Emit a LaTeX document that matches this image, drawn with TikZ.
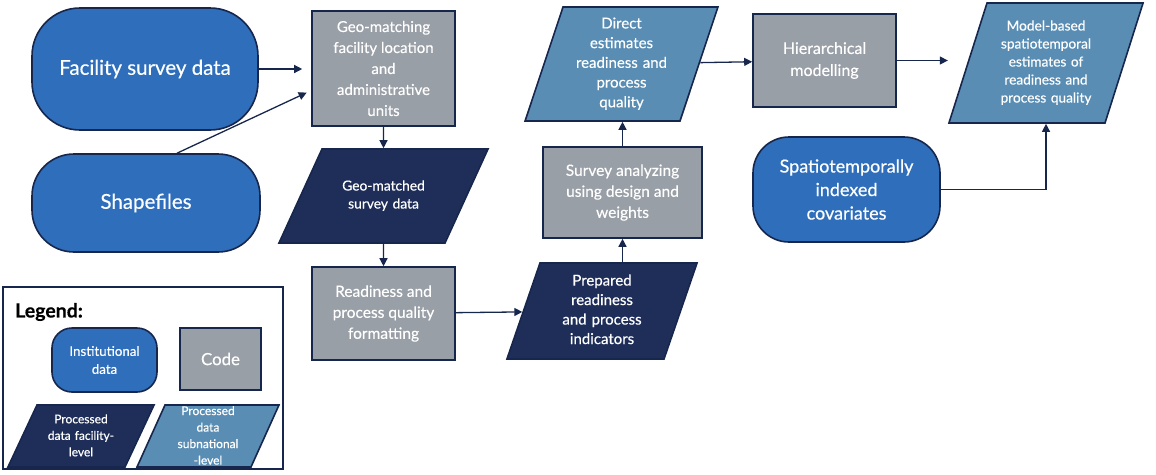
\documentclass[tikz,border=0pt]{standalone}
\usepackage{fontspec}
\setmainfont{Lato}[FakeBold=0.4]
\usetikzlibrary{arrows.meta, positioning, shapes.geometric}

\definecolor{instblue}{HTML}{2F6EBA}
\definecolor{navy}{HTML}{1F2E59}
\definecolor{codegrey}{HTML}{999FA7}
\definecolor{subblue}{HTML}{598DB4}
\definecolor{edgeblue}{HTML}{17264C}

% text of a parallelogram, kept out of the shape size
\newcommand{\ptxt}[1]{\smash{\raisebox{-3.5pt}{\begin{tabular}{@{}c@{}}#1\end{tabular}}}}

\tikzset{
  base/.style={draw=edgeblue, line width=1.6pt, text=white, align=center, inner sep=0pt},
  inst/.style={base, rectangle, fill=instblue},
  code/.style={base, rectangle, fill=codegrey},
  facpara/.style={base, trapezium, fill=navy,
    trapezium left angle=#1, trapezium right angle={180-#1}},
  subpara/.style={base, trapezium, fill=subblue,
    trapezium left angle=#1, trapezium right angle={180-#1}},
  arr/.style={-{Triangle[length=8pt,width=8pt]}, line width=1.3pt, draw=edgeblue}
}

\begin{document}
\begin{tikzpicture}[x=1pt,y=-1pt]
    \useasboundingbox (0,0) rectangle (1156,474);

    % institutional data
    \node[inst, rounded corners=48pt, minimum width=226pt, minimum height=122pt,
          font=\fontsize{20.5}{24}\selectfont] (fsd) at (145,69) {Facility survey data};
    \node[inst, rounded corners=42pt, minimum width=228pt, minimum height=98pt,
          font=\fontsize{20.5}{24}\selectfont] (shp) at (146,203) {Shapefiles};
    \node[inst, rounded corners=36pt, minimum width=187pt, minimum height=105pt,
          font=\fontsize{18}{23.5}\selectfont] (spt) at (846.5,189.5)
      {Spatiotemporally\\indexed\\covariates};

    % code
    \node[code, minimum width=143pt, minimum height=115pt,
          font=\fontsize{15}{21}\selectfont] (geo) at (383.5,68.5)
      {Geo-matching\\facility location\\and\\administrative\\units};
    \node[code, minimum width=143pt, minimum height=93pt,
          font=\fontsize{15.5}{21}\selectfont] (rdy) at (383.5,313.5)
      {Readiness and\\process quality\\formatting};
    \node[code, minimum width=159pt, minimum height=91pt,
          font=\fontsize{15.5}{21}\selectfont] (sav) at (622.5,192.5)
      {Survey analyzing\\using design and\\weights};
    \node[code, minimum width=143pt, minimum height=93pt,
          font=\fontsize{16}{22}\selectfont] (hier) at (824.5,60.5)
      {Hierarchical\\modelling};

    % processed data
    \node[facpara=65.4, text width=123pt, text height=47pt, text depth=47pt,
          font=\fontsize{13.8}{18}\selectfont] (gmd) at (383.5,196)
      {\ptxt{Geo-matched\\survey data}};
    \node[facpara=71, text width=124pt, text height=48pt, text depth=48pt,
          font=\fontsize{15}{19.5}\selectfont] (prep) at (602,311)
      {\ptxt{Prepared\\readiness\\and process\\indicators}};
    \node[subpara=71.6, text width=117pt, text height=57pt, text depth=57pt,
          font=\fontsize{15}{19.7}\selectfont] (dir) at (621.5,64)
      {\ptxt{Direct\\estimates\\readiness and\\process\\quality}};
    \node[subpara=72.4, text width=118pt, text height=60pt, text depth=60pt,
          font=\fontsize{13.7}{18}\selectfont] (mod) at (1046,63)
      {\ptxt{Model-based\\spatiotemporal\\estimates of\\readiness and\\process quality}};

    % connectors
    \draw[arr, shorten >=9pt] (fsd.east) -- (fsd.east -| geo.west);
    \draw[arr, shorten >=5pt] ([xshift=31pt]shp.north) -- ([yshift=-22pt]geo.west);
    \draw[arr] (geo) -- (gmd);
    \draw[arr] (gmd) -- (rdy);
    \draw[arr] (rdy) -- (prep);
    \draw[arr] (sav.south |- prep.north) -- (sav.south);
    \draw[arr] (sav.north) -- (sav.north |- dir.south);
    \draw[arr] (dir) -- (hier);
    \draw[arr] (hier.east) -- (hier.east -| mod.bottom left corner);
    \draw[arr] (spt.east) -| (mod.south);

    % legend
    \node[draw=edgeblue, line width=1.6pt, minimum width=280pt, minimum height=182pt,
          inner sep=0pt] (legend) at (143,378) {};
    \node[anchor=west, inner sep=0pt, font=\bfseries\fontsize{19.5}{22}\selectfont]
      (legtitle) at (15,312) {Legend:};
    \node[inst, rounded corners=20pt, minimum width=105pt, minimum height=64pt,
          font=\fontsize{13.3}{18}\selectfont] (lins) at (104.5,360) {Institutional\\data};
    \node[code, minimum width=81pt, minimum height=62pt,
          font=\fontsize{16.8}{18}\selectfont] (lcode) at (220.5,359) {Code};
    \node[facpara=64.9, text width=88pt, text height=31pt, text depth=31pt,
          font=\fontsize{12}{16.5}\selectfont] (lfac) at (81,436)
      {\ptxt{Processed\\data facility-\\level}};
    \node[subpara=65.7, text width=86pt, text height=31pt, text depth=31pt,
          font=\fontsize{12}{16.5}\selectfont] (lsub) at (208,436)
      {\ptxt{Processed\\data\\subnational\\-level}};
  \end{tikzpicture}
\end{document}
